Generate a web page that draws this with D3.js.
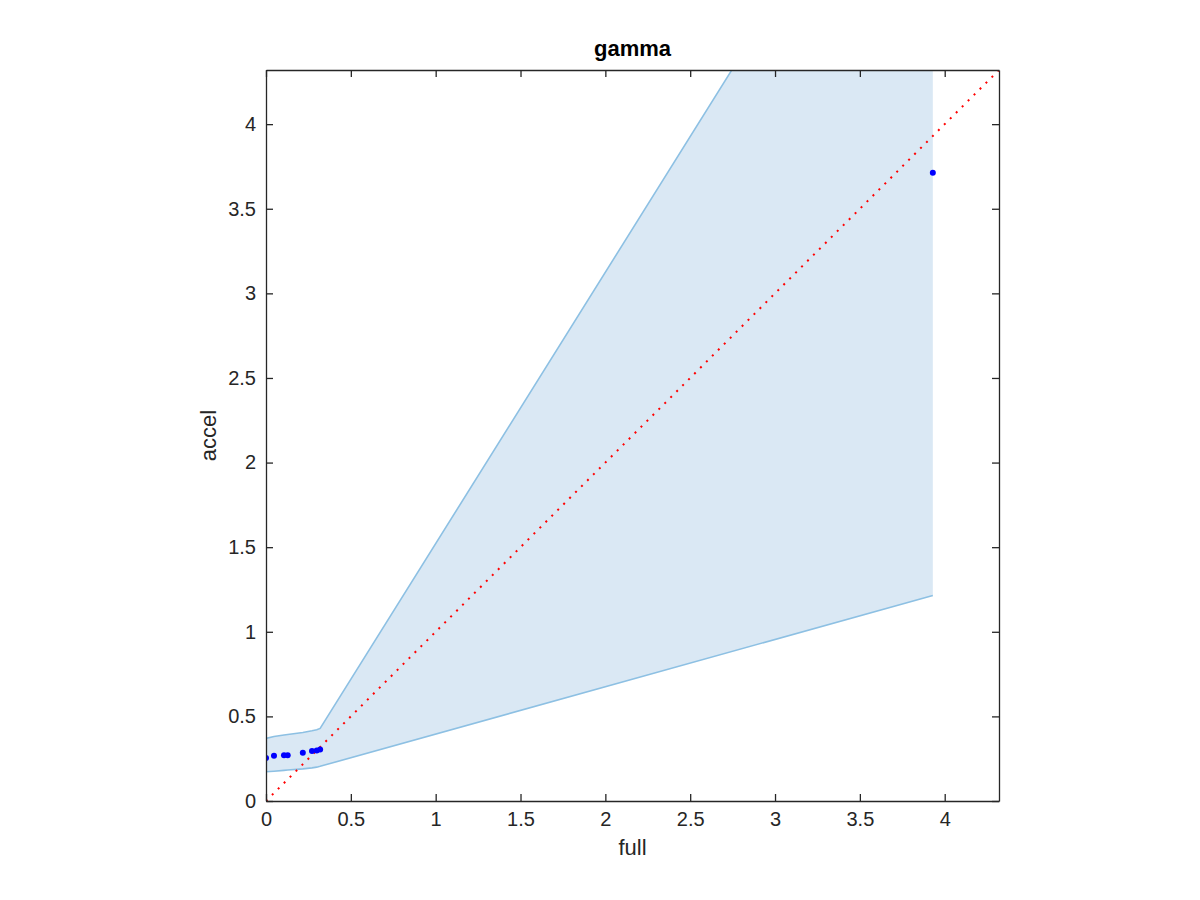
<!DOCTYPE html>
<html><head><meta charset="utf-8">
<script src="https://cdn.jsdelivr.net/npm/d3@7"></script>
<style>body{margin:0;background:#fff}svg{display:block}text{font-family:"Liberation Sans",Arial,Helvetica,sans-serif}</style>
</head><body>
<script>
const fullVals  = [0, 0.047, 0.106, 0.128, 0.217, 0.271, 0.299, 0.319, 3.93];
const accelVals = [0.254, 0.267, 0.271, 0.271, 0.285, 0.295, 0.299, 0.305, 3.713];
const lowerBand = [0.173, 0.176, 0.181, 0.183, 0.190, 0.196, 0.200, 0.205, 1.215];
const upperBand = [0.370, 0.381, 0.390, 0.393, 0.405, 0.415, 0.421, 0.429, 6.22];
const tickVals  = [0, 0.5, 1, 1.5, 2, 2.5, 3, 3.5, 4];
const axisMax = 4.32;

const W = 1200, H = 900;
const m = {left:266, top:70, right:999, bottom:801};
const svg = d3.select("body").append("svg").attr("width", W).attr("height", H);
const x = d3.scaleLinear().domain([0, axisMax]).range([m.left, m.right]);
const y = d3.scaleLinear().domain([0, axisMax]).range([m.bottom, m.top]);

svg.append("defs").append("clipPath").attr("id","clip")
  .append("rect").attr("x", m.left).attr("y", m.top)
  .attr("width", m.right - m.left).attr("height", m.bottom - m.top);

const g = svg.append("g").attr("clip-path","url(#clip)");
const idx = d3.range(fullVals.length);

g.append("path")
  .attr("d", d3.area().x(i => x(fullVals[i])).y0(i => y(lowerBand[i])).y1(i => y(upperBand[i]))(idx))
  .attr("fill", "#dae8f4").attr("stroke", "none");
const ln = (arr) => d3.line().x(i => x(fullVals[i])).y(i => y(arr[i]))(idx);
g.append("path").attr("d", ln(upperBand)).attr("fill","none").attr("stroke","#8dc0e3").attr("stroke-width",1.6);
g.append("path").attr("d", ln(lowerBand)).attr("fill","none").attr("stroke","#8dc0e3").attr("stroke-width",1.6);

g.append("line").attr("x1", x(0)).attr("y1", y(0)).attr("x2", x(axisMax)).attr("y2", y(axisMax))
  .attr("stroke", "#ff0000").attr("stroke-width", 2).attr("stroke-dasharray", "2,6.4");

g.selectAll("circle.pt").data(idx).join("circle").attr("class","pt")
  .attr("cx", i => x(fullVals[i])).attr("cy", i => y(accelVals[i])).attr("r", 3)
  .attr("fill", "#0000ff");

// axes box with inward ticks on all sides
const axCol = "#262626";
const tl = 7;
const axB = d3.axisBottom(x).tickValues(tickVals).tickSizeInner(-tl).tickSizeOuter(0).tickPadding(11).tickFormat(d3.format("~g"));
const axT = d3.axisTop(x).tickValues(tickVals).tickSizeInner(-tl).tickSizeOuter(0).tickFormat("");
const axL = d3.axisLeft(y).tickValues(tickVals).tickSizeInner(-tl).tickSizeOuter(0).tickPadding(10).tickFormat(d3.format("~g"));
const axR = d3.axisRight(y).tickValues(tickVals).tickSizeInner(-tl).tickSizeOuter(0).tickFormat("");
function style(sel){
  sel.select(".domain").attr("stroke", axCol).attr("stroke-width", 1.3);
  sel.selectAll(".tick line").attr("stroke", axCol).attr("stroke-width", 1.3);
  sel.selectAll(".tick text").attr("fill", axCol).attr("font-size", 20).attr("font-family", '"Liberation Sans",Arial,sans-serif');
}
svg.append("g").attr("transform", `translate(0,${m.bottom})`).call(axB).call(style);
svg.append("g").attr("transform", `translate(0,${m.top})`).call(axT).call(style);
svg.append("g").attr("transform", `translate(${m.left},0)`).call(axL).call(style);
svg.append("g").attr("transform", `translate(${m.right},0)`).call(axR).call(style);

svg.append("text").attr("x", (m.left + m.right)/2).attr("y", 56).attr("text-anchor","middle")
  .attr("font-size", 22).attr("font-weight","bold").attr("fill","#000").text("gamma");
svg.append("text").attr("x", (m.left + m.right)/2).attr("y", 855).attr("text-anchor","middle")
  .attr("font-size", 22).attr("fill", axCol).text("full");
svg.append("text").attr("transform", `translate(216,${(m.top + m.bottom)/2}) rotate(-90)`).attr("text-anchor","middle")
  .attr("font-size", 22).attr("fill", axCol).text("accel");
</script>
</body></html>
